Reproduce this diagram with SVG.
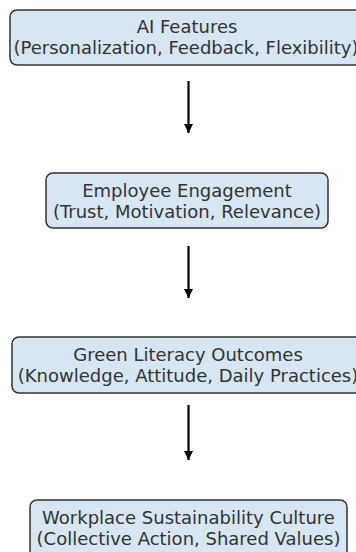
<svg xmlns="http://www.w3.org/2000/svg" width="356" height="552" viewBox="0 0 356 552">
  <defs>
    <marker id="arrowhead" viewBox="0 0 10 10" refX="10" refY="5" markerWidth="10" markerHeight="9" orient="auto" markerUnits="userSpaceOnUse">
      <path d="M0,0 L10,5 L0,10 z" fill="#000"/>
    </marker>
    <style>
      .box { fill: #d6e6f2; stroke: #333; stroke-width: 1.5; }
      .label { font-family: "DejaVu Sans", sans-serif; font-size: 18px; fill: #333; text-anchor: middle; }
      .edge { stroke: #000; stroke-width: 2.2; fill: none; marker-end: url(#arrowhead); }
    </style>
  </defs>
  <rect width="356" height="552" fill="#fff"/>

  <g id="edges">
    <line class="edge" x1="188.5" y1="81" x2="188.5" y2="133"/>
    <line class="edge" x1="188.5" y1="246" x2="188.5" y2="298"/>
    <line class="edge" x1="188.5" y1="405" x2="188.5" y2="460"/>
  </g>

  <g id="ai-features">
    <rect class="box" x="10" y="10" width="356" height="55" rx="7"/>
    <text class="label" x="187" y="33">AI Features</text>
    <text class="label" x="186" y="54">(Personalization, Feedback, Flexibility)</text>
  </g>

  <g id="employee-engagement">
    <rect class="box" x="46" y="173" width="282" height="55" rx="7"/>
    <text class="label" x="187" y="197">Employee Engagement</text>
    <text class="label" x="187" y="218">(Trust, Motivation, Relevance)</text>
  </g>

  <g id="green-literacy">
    <rect class="box" x="12" y="337" width="352" height="56" rx="7"/>
    <text class="label" x="188" y="361">Green Literacy Outcomes</text>
    <text class="label" x="188" y="382">(Knowledge, Attitude, Daily Practices)</text>
  </g>

  <g id="sustainability-culture">
    <rect class="box" x="30" y="500" width="317" height="60" rx="7"/>
    <text class="label" x="188.5" y="524">Workplace Sustainability Culture</text>
    <text class="label" x="188.5" y="545">(Collective Action, Shared Values)</text>
  </g>
</svg>
